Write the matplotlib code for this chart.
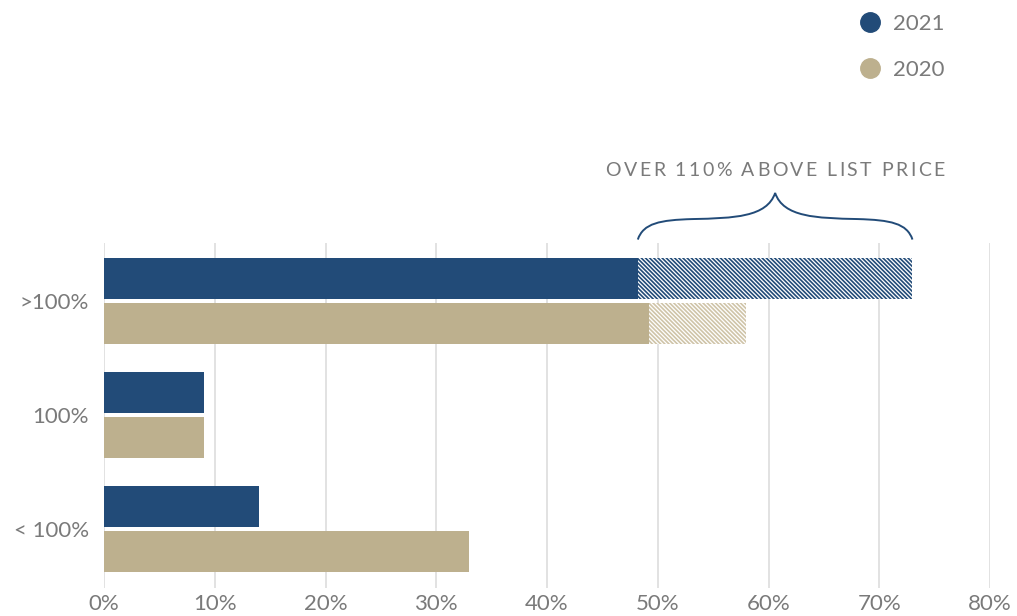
import matplotlib
matplotlib.use("Agg")
import matplotlib.pyplot as plt
import matplotlib.transforms as mtransforms
from matplotlib.path import Path
from matplotlib.patches import PathPatch
from matplotlib.lines import Line2D
from matplotlib.font_manager import FontProperties
import numpy as np

# Sale price relative to list price, share of homes (%)
categories = [">100%", "100%", "< 100%"]
share_2021 = [73.0, 9.0, 14.0]
share_2020 = [58.0, 9.0, 33.0]
# portion of the ">100%" bar that sold more than 110% above list
over110_2021 = 24.8
over110_2020 = 8.8
x_ticks = [0, 10, 20, 30, 40, 50, 60, 70, 80]
x_tick_labels = [f"{t}%" for t in x_ticks]
brace_label = "OVER 110% ABOVE LIST PRICE"

NAVY = "#224b78"
TAN = "#bdb08e"
TAN_HATCH = "#cfc4a8"
GRAY_TEXT = "#7a7a7a"
GRID = "#dddddd"

plt.rcParams["font.family"] = ["Lato", "DejaVu Sans"]
plt.rcParams["hatch.linewidth"] = 1.2

fig = plt.figure(figsize=(10.17, 6.16), dpi=100)
W, H = 1017, 616
ax = fig.add_axes([104 / W, 1 - 588 / H, (990 - 104) / W, (588 - 243) / H])

y = np.arange(len(categories))
bh = 0.36
off = 0.2

base_2021 = list(share_2021)
base_2020 = list(share_2020)
base_2021[0] = share_2021[0] - over110_2021
base_2020[0] = share_2020[0] - over110_2020

ax.barh(y - off, base_2021, height=bh, color=NAVY, lw=0, zorder=3)
ax.barh(y + off, base_2020, height=bh, color=TAN, lw=0, zorder=3)
# hatched segments: above 110% of list price
HATCH = "\\" * 8
ax.barh(y[0] - off, over110_2021, left=base_2021[0], height=bh,
        facecolor="white", edgecolor=NAVY, hatch=HATCH, lw=0, zorder=3)
ax.barh(y[0] + off, over110_2020, left=base_2020[0], height=bh,
        facecolor="white", edgecolor=TAN_HATCH, hatch=HATCH, lw=0, zorder=3)

ax.set_xlim(0, 80)
ax.set_ylim(2.518, -0.509)
ax.set_xticks(x_ticks)
ax.set_xticklabels(x_tick_labels)
ax.set_yticks(y)
ax.set_yticklabels(categories)
ax.tick_params(axis="both", length=0, labelsize=16, labelcolor=GRAY_TEXT)
ax.tick_params(axis="x", pad=4)
ax.tick_params(axis="y", pad=11)
ax.xaxis.grid(True, color=GRID, lw=1.2, zorder=0)
ax.set_axisbelow(True)
for s in ax.spines.values():
    s.set_visible(False)

# curly brace over the >110% segment of 2021
trans = mtransforms.blended_transform_factory(ax.transData, ax.transAxes)
x0 = base_2021[0]
x1 = share_2021[0]
yb, ypk = 1.01, 1.145
pts_uv = [
    (0.0, 0.0),
    (0.02, 0.35), (0.08, 0.42), (0.2, 0.44),
    (0.35, 0.46), (0.47, 0.48), (0.5, 1.0),
    (0.53, 0.48), (0.65, 0.46), (0.8, 0.44),
    (0.92, 0.42), (0.98, 0.35), (1.0, 0.0),
]
verts = [(x0 + u * (x1 - x0), yb + v * (ypk - yb)) for u, v in pts_uv]
codes = [Path.MOVETO] + [Path.CURVE4] * 12
brace = PathPatch(Path(verts, codes), facecolor="none", edgecolor=NAVY,
                  lw=1.4, transform=trans, clip_on=False)
ax.add_patch(brace)


def tracked_text(x, yv, s, tracking_px, size, transform, color):
    """Draw s centred at (x, yv) with extra letter spacing."""
    renderer = fig.canvas.get_renderer()
    fp = FontProperties(family=["Lato", "DejaVu Sans"], size=size)
    w_aa = renderer.get_text_width_height_descent("aa", fp, ismath=False)[0]
    w_a_a = renderer.get_text_width_height_descent("a a", fp, ismath=False)[0]
    space_w = w_a_a - w_aa
    widths = []
    for ch in s:
        if ch == " ":
            widths.append(space_w)
        else:
            widths.append(renderer.get_text_width_height_descent(ch, fp, ismath=False)[0] + 0.5)
    total = sum(widths) + tracking_px * (len(s) - 1)
    pos = -total / 2
    for ch, w in zip(s, widths):
        if ch != " ":
            off_t = mtransforms.ScaledTranslation(pos / fig.dpi, 0, fig.dpi_scale_trans)
            ax.text(x, yv, ch, transform=transform + off_t, ha="left", va="center",
                    fontproperties=fp, color=color)
        pos += w + tracking_px


tracked_text((x0 + x1) / 2, 1.21, brace_label, 2.0, 14, trans, GRAY_TEXT)

# legend
handles = [
    Line2D([], [], ls="none", marker="o", markersize=14, color=NAVY, label="2021"),
    Line2D([], [], ls="none", marker="o", markersize=14, color=TAN, label="2020"),
]
leg = fig.legend(handles=handles, loc="upper left",
                 bbox_to_anchor=(839 / W, 1 + 6 / H), frameon=False,
                 fontsize=16, labelspacing=1.15, handletextpad=0.55,
                 handlelength=1.0, labelcolor=GRAY_TEXT)

fig.savefig("out.png", dpi=100, facecolor="white")
